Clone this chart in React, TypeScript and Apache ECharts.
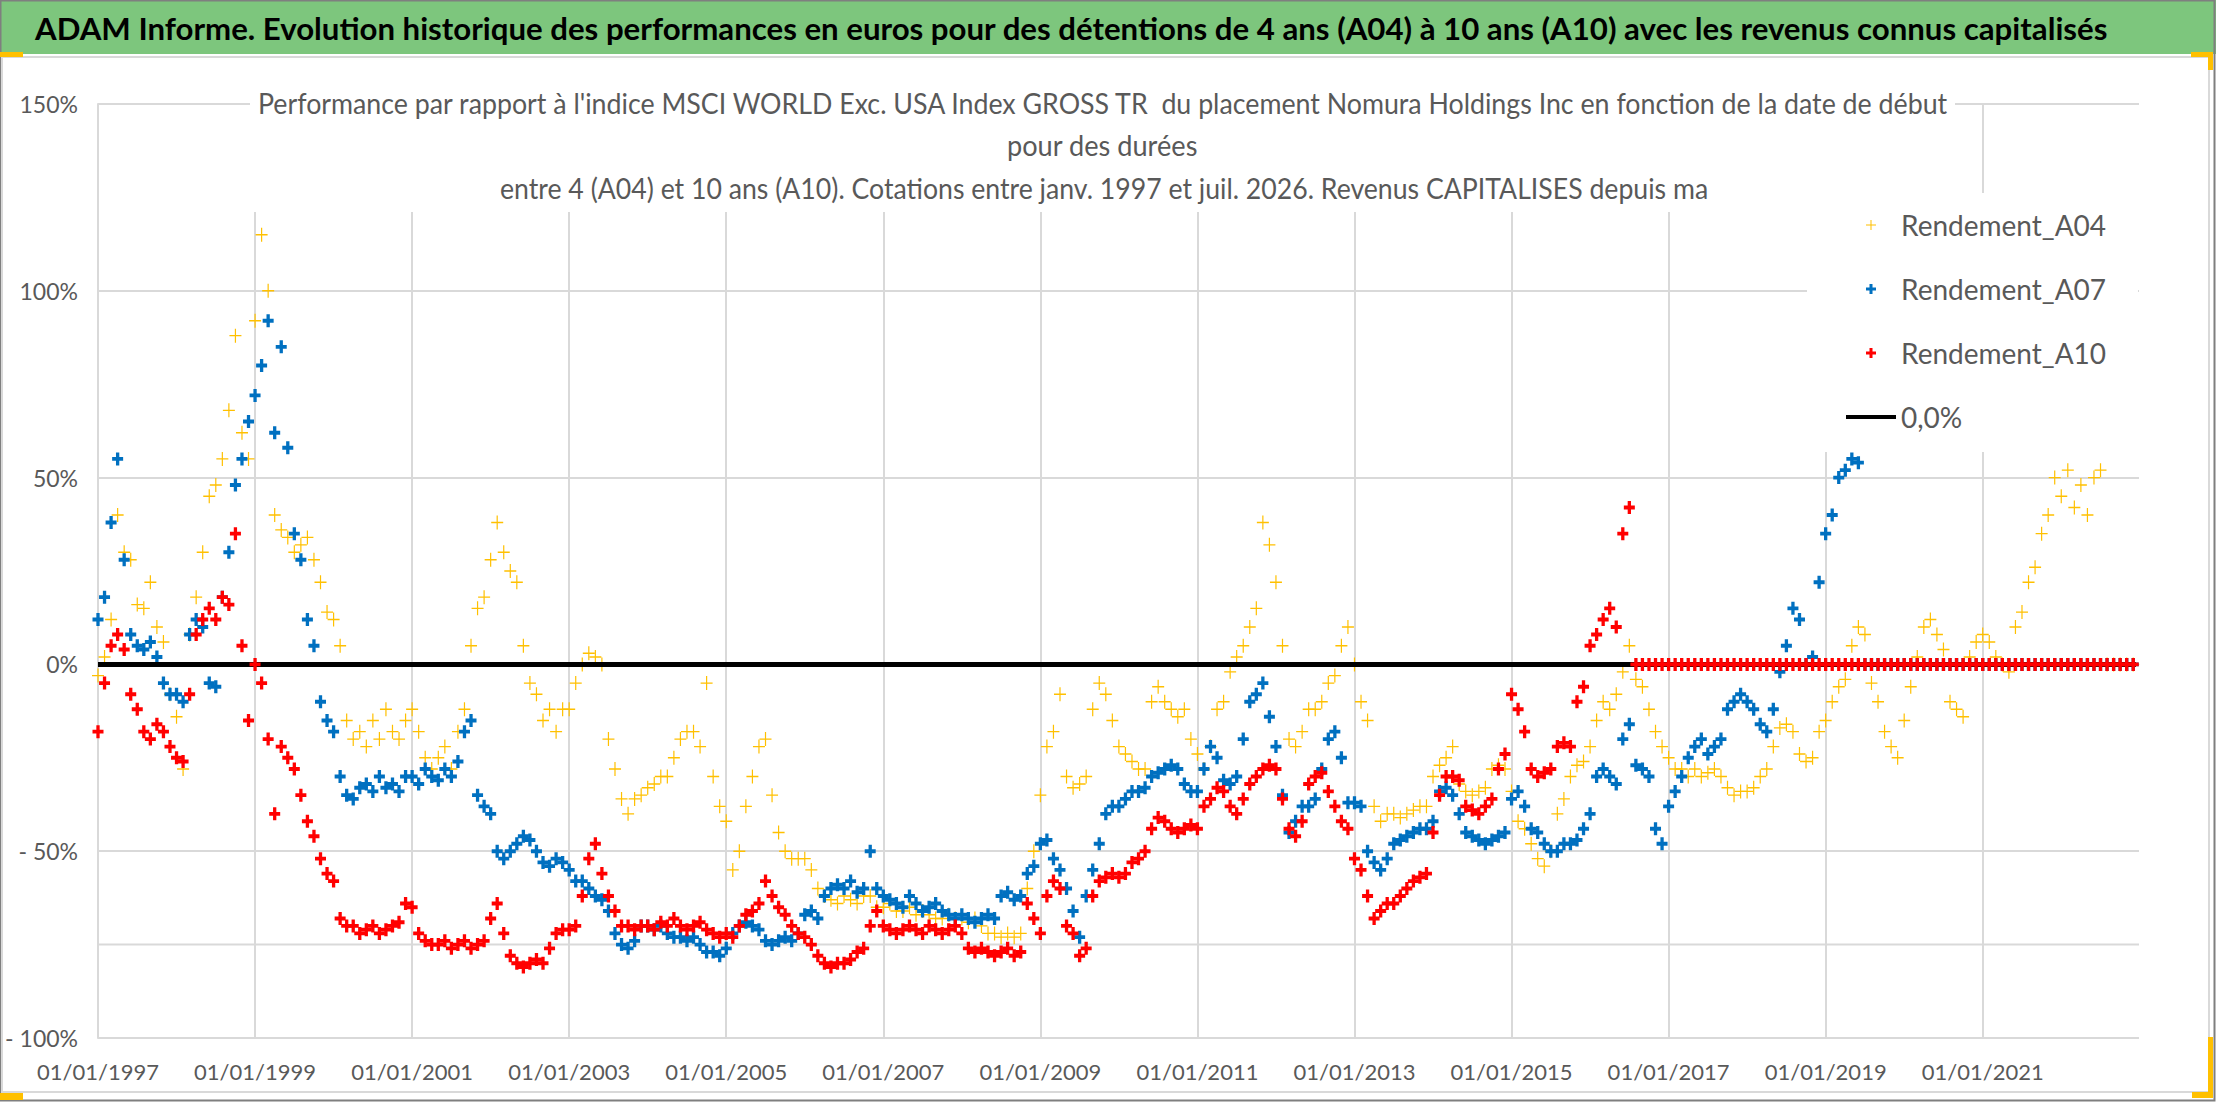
import { useEffect, useRef } from 'react';
import * as echarts from 'echarts';

// monthly readings, first value = 01/01/1997, one value per month up to 12/2022
const START_YEAR = 1997;

const rendementA04 = [
  -3, 2, 12, 40, 30, 28, 16, 15, 22, 10, 6, -8, // 1997
  -14, -28, 8, 18, 30, 45, 48, 55, 68, 88, 62, 55, // 1998
  92, 115, 100, 40, 36, 34, 30, 32, 34, 28, 22, 14, // 1999
  12, 5, -15, -20, -18, -22, -15, -20, -12, -18, -20, -15, // 2000
  -12, -18, -25, -28, -25, -22, -28, -18, -12, 5, 15, 18, // 2001
  28, 38, 30, 25, 22, 5, -5, -8, -15, -12, -18, -12, // 2002
  -12, -5, 0, 3, 2, 0, -20, -28, -36, -40, -36, -35, // 2003
  -33, -32, -30, -30, -25, -20, -18, -18, -22, -5, -30, -38, // 2004
  -42, -55, -50, -38, -30, -22, -20, -35, -45, -50, -52, -52, // 2005
  -52, -55, -60, -62, -63, -64, -62, -63, -64, -62, -62, -65, // 2006
  -65, -64, -66, -66, -65, -67, -66, -67, -68, -68, -67, -68, // 2007
  -68, -69, -68, -70, -72, -72, -73, -72, -73, -72, -60, -50, // 2008
  -35, -22, -18, -8, -30, -33, -32, -30, -12, -5, -8, -15, // 2009
  -22, -24, -26, -28, -28, -10, -6, -10, -12, -14, -12, -20, // 2010
  -24, -28, -22, -12, -10, -2, 2, 5, 10, 15, 38, 32, // 2011
  22, 5, -20, -22, -18, -12, -12, -10, -5, -3, 5, 10, // 2012
  0, -10, -15, -38, -42, -40, -40, -41, -40, -39, -38, -38, // 2013
  -30, -27, -25, -22, -32, -34, -35, -34, -33, -28, -27, -28, // 2014
  -34, -42, -44, -48, -52, -54, -50, -40, -36, -30, -27, -26, // 2015
  -22, -15, -10, -12, -8, -2, 5, -4, -6, -12, -18, -22, // 2016
  -25, -28, -28, -30, -28, -30, -29, -28, -30, -33, -35, -34, // 2017
  -34, -33, -30, -28, -22, -17, -16, -18, -24, -26, -25, -18, // 2018
  -15, -10, -6, -4, 5, 10, 8, -5, -10, -18, -22, -25, // 2019
  -15, -6, 2, 10, 12, 8, 4, -10, -12, -14, 2, 6, // 2020
  8, 6, 2, 0, -2, 10, 14, 22, 26, 35, 40, 50, // 2021
  45, 52, 42, 48, 40, 50, 52, 0, 0, 0, 0, 0, // 2022
];

const rendementA07 = [
  12, 18, 38, 55, 28, 8, 5, 4, 6, 2, -5, -8, // 1997
  -8, -10, 8, 12, 10, -5, -6, 18, 30, 48, 55, 65, // 1998
  72, 80, 92, 62, 85, 58, 35, 28, 12, 5, -10, -15, // 1999
  -18, -30, -35, -36, -33, -32, -34, -30, -33, -32, -34, -30, // 2000
  -30, -32, -28, -30, -31, -28, -30, -26, -18, -15, -35, -38, // 2001
  -40, -50, -52, -50, -48, -46, -47, -50, -53, -54, -52, -53, // 2002
  -55, -58, -58, -60, -62, -63, -66, -72, -75, -76, -74, -70, // 2003
  -70, -71, -70, -72, -73, -73, -74, -73, -75, -77, -77, -78, // 2004
  -76, -72, -70, -69, -70, -71, -74, -75, -74, -73, -74, -72, // 2005
  -67, -66, -68, -62, -60, -59, -60, -58, -61, -60, -50, -60, // 2006
  -62, -63, -64, -65, -62, -64, -66, -65, -64, -66, -67, -68, // 2007
  -67, -68, -69, -68, -67, -68, -62, -61, -63, -62, -56, -54, // 2008
  -48, -47, -52, -55, -60, -66, -73, -62, -55, -48, -40, -38, // 2009
  -38, -36, -34, -34, -33, -30, -29, -28, -27, -28, -32, -34, // 2010
  -34, -28, -22, -25, -31, -32, -30, -20, -10, -8, -5, -14, // 2011
  -22, -35, -45, -42, -38, -38, -36, -28, -20, -18, -25, -37, // 2012
  -37, -38, -50, -53, -55, -52, -48, -47, -46, -45, -44, -44, // 2013
  -42, -34, -33, -35, -40, -45, -46, -47, -48, -47, -46, -45, // 2014
  -36, -34, -38, -44, -45, -48, -50, -50, -48, -48, -47, -44, // 2015
  -40, -30, -28, -30, -32, -20, -16, -27, -28, -30, -44, -48, // 2016
  -38, -34, -30, -25, -22, -20, -24, -22, -20, -12, -10, -8, // 2017
  -10, -12, -16, -18, -12, -2, 5, 15, 12, 0, 2, 22, // 2018
  35, 40, 50, 52, 55, 54, 0, 0, 0, 0, 0, 0, // 2019
  0, 0, 0, 0, 0, 0, 0, 0, 0, 0, 0, 0, // 2020
  0, 0, 0, 0, 0, 0, 0, 0, 0, 0, 0, 0, // 2021
  0, 0, 0, 0, 0, 0, 0, 0, 0, 0, 0, 0, // 2022
];

const rendementA10 = [
  -18, -5, 5, 8, 4, -8, -12, -18, -20, -16, -18, -22, // 1997
  -25, -26, -8, 8, 12, 15, 12, 18, 16, 35, 5, -15, // 1998
  0, -5, -20, -40, -22, -25, -28, -35, -42, -46, -52, -56, // 1999
  -58, -68, -70, -70, -72, -71, -70, -72, -71, -70, -69, -64, // 2000
  -65, -72, -74, -75, -75, -74, -76, -75, -74, -76, -75, -74, // 2001
  -68, -64, -72, -78, -80, -81, -80, -79, -80, -76, -72, -71, // 2002
  -71, -70, -62, -52, -48, -56, -62, -66, -70, -70, -71, -70, // 2003
  -70, -71, -69, -70, -68, -70, -71, -70, -69, -71, -72, -73, // 2004
  -72, -73, -70, -67, -66, -64, -58, -62, -65, -67, -70, -72, // 2005
  -73, -75, -78, -80, -81, -80, -80, -79, -77, -76, -70, -66, // 2006
  -70, -71, -72, -71, -70, -71, -72, -70, -71, -72, -71, -70, // 2007
  -72, -76, -77, -76, -77, -78, -77, -76, -78, -77, -64, -68, // 2008
  -72, -62, -58, -60, -70, -72, -78, -76, -62, -58, -57, -56, // 2009
  -57, -56, -53, -52, -50, -44, -41, -42, -44, -45, -44, -43, // 2010
  -44, -38, -36, -33, -34, -38, -40, -36, -32, -30, -28, -27, // 2011
  -28, -36, -44, -46, -42, -32, -30, -29, -34, -38, -42, -44, // 2012
  -52, -55, -62, -68, -66, -64, -64, -62, -60, -58, -57, -56, // 2013
  -45, -35, -30, -30, -31, -38, -39, -40, -38, -36, -28, -24, // 2014
  -8, -12, -18, -28, -30, -29, -28, -22, -21, -22, -10, -6, // 2015
  5, 8, 12, 15, 10, 35, 42, 0, 0, 0, 0, 0, // 2016
  0, 0, 0, 0, 0, 0, 0, 0, 0, 0, 0, 0, // 2017
  0, 0, 0, 0, 0, 0, 0, 0, 0, 0, 0, 0, // 2018
  0, 0, 0, 0, 0, 0, 0, 0, 0, 0, 0, 0, // 2019
  0, 0, 0, 0, 0, 0, 0, 0, 0, 0, 0, 0, // 2020
  0, 0, 0, 0, 0, 0, 0, 0, 0, 0, 0, 0, // 2021
  0, 0, 0, 0, 0, 0, 0, 0, 0, 0, 0, 0, // 2022
];

const zeroLine = [
  [1997, 0],
  [2022.95, 0],
];
const extraGridLine = [
  [1997, -75],
  [2022.99, -75],
];

const yTicks = { min: -100, max: 150, interval: 50 };
const xTicks = { min: 1997, max: 2022.99, interval: 2 };

const HEADER =
  'ADAM Informe. Evolution historique des performances en euros pour des détentions de 4 ans (A04) à 10 ans (A10) avec les revenus connus capitalisés';
const SUBTITLE = [
  "Performance par rapport à l'indice MSCI WORLD Exc. USA Index GROSS TR  du placement Nomura Holdings Inc en fonction de la date de début",
  'pour des durées',
  'entre 4 (A04) et 10 ans (A10). Cotations entre janv. 1997 et juil. 2026. Revenus CAPITALISES depuis ma',
];
// left / right edge of each subtitle line
const SUBTITLE_SPAN = [
  [258, 1950],
  [1007, 1198],
  [500, 1709],
];

const FONT = 'Lato, Roboto, sans-serif';
const GRID = '#d9d9d9';
const TEXT = '#595959';

const PLUS_THIN = 'path://M4.5,0h1v4.5h4.5v1h-4.5v4.5h-1v-4.5h-4.5v-1h4.5z';
const PLUS_BOLD = 'path://M3.5,0h3v3.5h3.5v3h-3.5v3.5h-3v-3.5h-3.5v-3h3.5z';
const LINE_ICON = 'path://M0,0h50v4h-50z';

const toPoints = (vals: number[]) => vals.map((v, i) => [START_YEAR + i / 12, v]);

const pct = (v: number) => (v < 0 ? `- ${-v}%` : `${v}%`);

const measure = (text: string, font: string) => {
  const ctx = document.createElement('canvas').getContext('2d');
  if (!ctx) return 1;
  ctx.font = font;
  return ctx.measureText(text).width || 1;
};

// a text squeezed to fit between two x positions
const fitText = (text: string, x0: number, x1: number, y: number, size: number, weight: string, fill: string) => {
  const w = measure(text, `${weight} ${size}px Lato`);
  return {
    type: 'text',
    z: 6,
    x: x0,
    y,
    scaleX: (x1 - x0) / w,
    style: { text, fontFamily: FONT, fontWeight: weight, fontSize: size, fill, align: 'left', verticalAlign: 'middle' },
  };
};

export default function App() {
  const ref = useRef<HTMLDivElement | null>(null);

  useEffect(() => {
    if (!ref.current) {
      return;
    }
    document.body.style.margin = '0';
    const chart = echarts.init(ref.current, undefined, { renderer: 'svg' });

    const scatter = (name: string, data: number[], color: string, symbol: string, size: number[], z: number) => ({
      name,
      type: 'scatter',
      data: toPoints(data),
      symbol,
      symbolSize: size,
      itemStyle: { color, opacity: 1 },
      z,
      silent: true,
    });

    chart.setOption({
      animation: false,
      backgroundColor: '#ffffff',
      grid: { left: 98, right: 2216 - 2139, top: 104, bottom: 1102 - 1038, containLabel: false },
      xAxis: {
        type: 'value',
        ...xTicks,
        axisLine: { show: false },
        axisTick: { show: false },
        axisLabel: {
          formatter: (v: number) => `01/01/${v}`,
          showMaxLabel: false,
          fontFamily: FONT,
          fontSize: 22,
          color: TEXT,
          margin: 22,
        },
        splitLine: { show: true, showMaxLine: false, lineStyle: { color: GRID, width: 2 } },
      },
      yAxis: {
        type: 'value',
        ...yTicks,
        axisLine: { show: true, onZero: false, lineStyle: { color: GRID, width: 2 } },
        axisTick: { show: false },
        axisLabel: { formatter: pct, fontFamily: FONT, fontSize: 23, color: TEXT, margin: 20 },
        splitLine: { show: true, lineStyle: { color: GRID, width: 2 } },
      },
      legend: {
        orient: 'vertical',
        left: 1846,
        top: 210,
        padding: 0,
        itemGap: 34,
        itemWidth: 50,
        itemHeight: 10,
        textStyle: { fontFamily: FONT, fontSize: 28, color: TEXT, lineHeight: 30 },
        data: [
          { name: 'Rendement_A04' },
          { name: 'Rendement_A07' },
          { name: 'Rendement_A10' },
          { name: '0,0%', icon: LINE_ICON },
        ],
      },
      graphic: [
        // header band and frames
        { type: 'rect', z: 5, shape: { x: 0, y: 0, width: 2216, height: 54 }, style: { fill: '#7dc67d' } },
        { type: 'rect', z: 5, shape: { x: 0.5, y: 0.5, width: 2214, height: 1100 }, style: { fill: 'none', stroke: '#7f7f7f', lineWidth: 2 } },
        { type: 'rect', z: 5, shape: { x: 2, y: 57, width: 2207, height: 1035 }, style: { fill: 'none', stroke: GRID, lineWidth: 2 } },
        fitText(HEADER, 35, 2108, 29, 30, 'bold', '#000000'),
        // selection handles
        { type: 'rect', z: 6, shape: { x: 0, y: 52, width: 23, height: 5 }, style: { fill: '#ffc000' } },
        { type: 'rect', z: 6, shape: { x: 0, y: 1093, width: 23, height: 7 }, style: { fill: '#ffc000' } },
        { type: 'rect', z: 6, shape: { x: 2191, y: 52, width: 22, height: 5 }, style: { fill: '#ffc000' } },
        { type: 'rect', z: 6, shape: { x: 2208, y: 52, width: 5, height: 18 }, style: { fill: '#ffc000' } },
        { type: 'rect', z: 6, shape: { x: 2208, y: 1037, width: 5, height: 61 }, style: { fill: '#ffc000' } },
        { type: 'rect', z: 6, shape: { x: 2192, y: 1092, width: 21, height: 6 }, style: { fill: '#ffc000' } },
        // white boxes of the chart title and of the legend
        { type: 'rect', z: 1, shape: { x: 250, y: 80, width: 1705, height: 132 }, style: { fill: '#ffffff' } },
        { type: 'rect', z: 1, shape: { x: 1807, y: 193, width: 331, height: 259 }, style: { fill: '#ffffff' } },
        ...SUBTITLE.map((t, i) => fitText(t, SUBTITLE_SPAN[i][0], SUBTITLE_SPAN[i][1], 103 + i * 42.5, 28, 'normal', TEXT)),
      ],
      series: [
        { name: '-75', type: 'line', data: extraGridLine, symbol: 'none', silent: true, z: 1, lineStyle: { color: GRID, width: 2 } },
        scatter('Rendement_A04', rendementA04, '#ffc000', PLUS_THIN, [12, 14], 2),
        scatter('Rendement_A07', rendementA07, '#0070c0', PLUS_BOLD, [11, 13], 3),
        {
          name: '0,0%',
          type: 'line',
          data: zeroLine,
          symbol: 'none',
          silent: true,
          z: 4,
          lineStyle: { color: '#000000', width: 5 },
          itemStyle: { color: '#000000' },
        },
        scatter('Rendement_A10', rendementA10, '#ff0000', PLUS_BOLD, [11, 13], 5),
      ],
    });

    return () => {
      chart.dispose();
    };
  }, []);

  return (
    <div
      ref={ref}
      style={{ position: 'fixed', left: 0, top: 0, width: 2216, height: 1102, background: '#ffffff' }}
    />
  );
}
